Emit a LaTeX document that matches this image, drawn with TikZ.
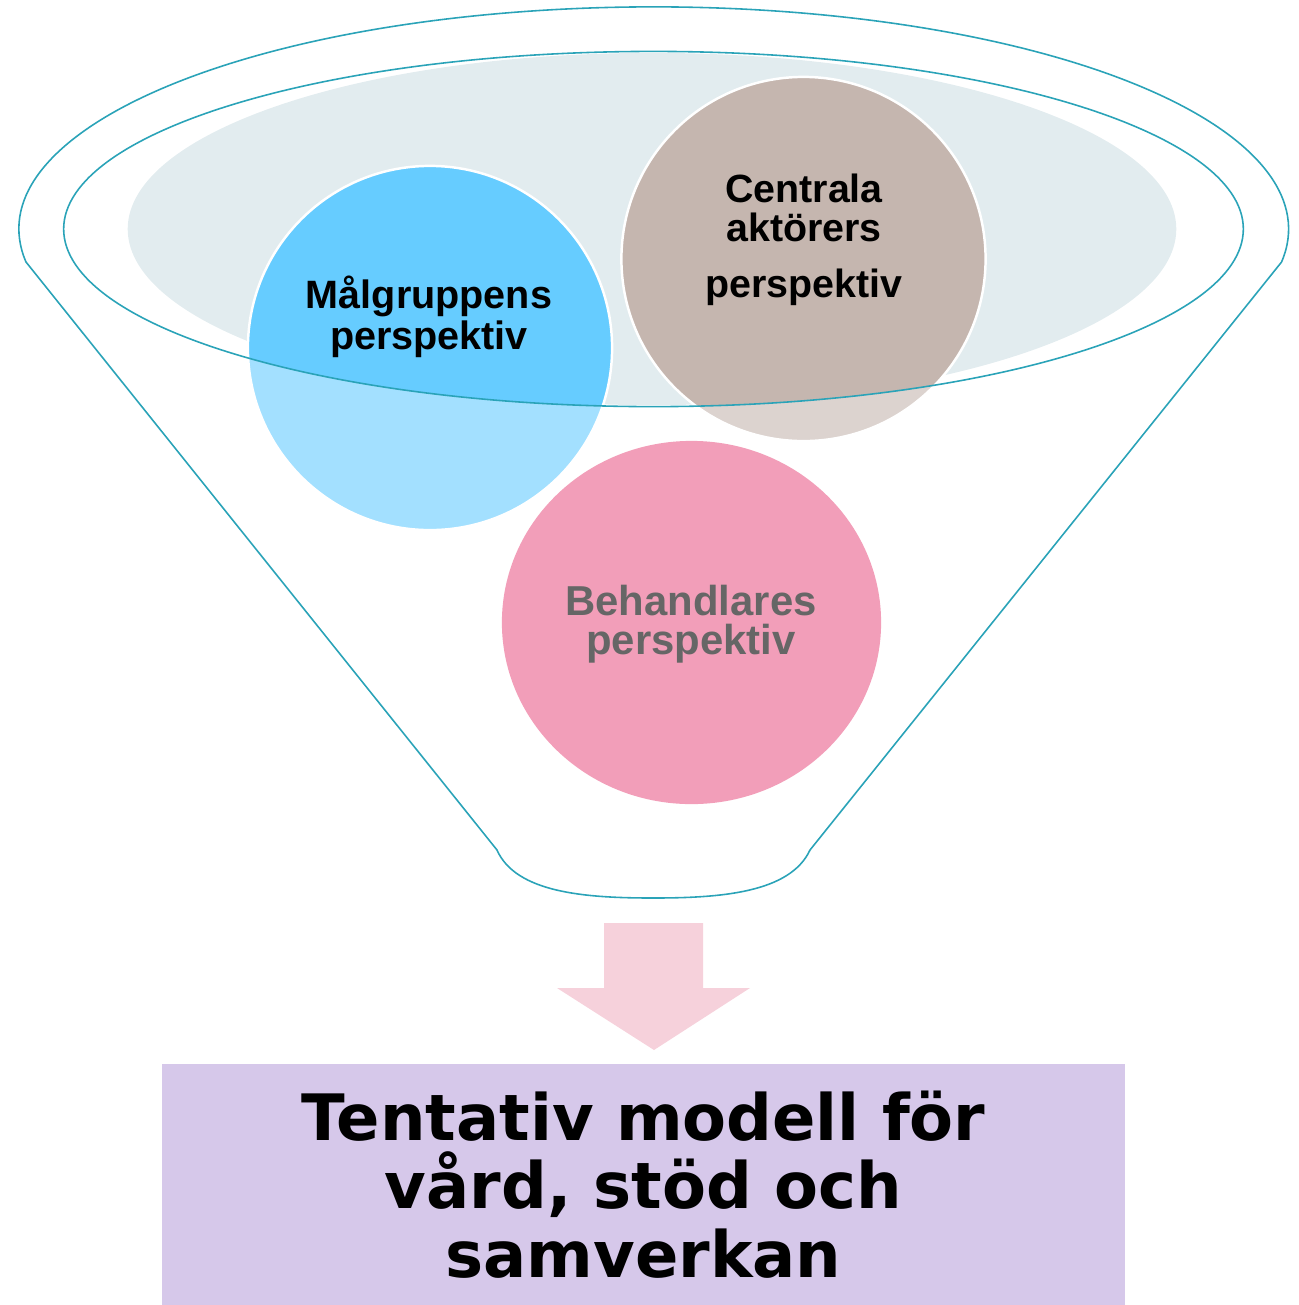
\documentclass[tikz,border=0pt]{standalone}
\usepackage{fontspec}
\usetikzlibrary{shapes.geometric}
\setmainfont{Liberation Sans}
\newfontfamily\modelfont{DejaVu Sans}
\definecolor{funnelline}{RGB}{42,163,184}
\definecolor{topfill}{RGB}{226,236,239}
\definecolor{groupblue}{RGB}{102,204,255}
\definecolor{actorbrown}{RGB}{197,182,175}
\definecolor{carerpink}{RGB}{242,158,185}
\definecolor{arrowpink}{RGB}{246,209,219}
\definecolor{modelpurple}{RGB}{214,200,234}
\definecolor{carergray}{RGB}{102,102,102}

\begin{document}
\begin{tikzpicture}[x=0.01cm, y=-0.01cm,
    disc/.style={circle, draw=white, line width=0.7pt, inner sep=0pt, minimum size=3.64cm},
    perspective/.style={align=center, font=\fontsize{11.2}{11.1}\selectfont\bfseries},
    funnel/.style={draw=funnelline, line width=0.45pt}]
    \useasboundingbox (0,0) rectangle (1299,1305);

    % the top of the funnel
    \fill[topfill] (652,229) ellipse [x radius=5.24cm, y radius=1.76cm];

    \node[disc, fill=groupblue] (malgrupp) at (430,348) {};
    \node[disc, fill=actorbrown] (aktorer) at (803.5,259) {};

    % the funnel body pales what lies outside the rim
    \fill[white, fill opacity=0.4, even odd rule] (0,0) rectangle (1299,900)
        (653.5,229) ellipse [x radius=5.895cm, y radius=1.775cm];

    \node[ellipse, inner sep=0pt, fill=carerpink, minimum width=3.79cm, minimum height=3.63cm]
        (behandlare) at (691.5,622.5) {};

    % funnel outline
    \draw[funnel] (26,262) arc [start angle=188.55, end angle=-8.55, x radius=6.345cm, y radius=2.22cm]
        -- (810,850) .. controls (790,893) and (720,898) .. (653,898)
        .. controls (586,898) and (516,893) .. (497,850) -- cycle;
    \draw[funnel] (653.5,229) ellipse [x radius=5.895cm, y radius=1.775cm];

    \node[perspective, font=\fontsize{11.25}{9.96}\selectfont\bfseries] at (429,317) {Målgruppens\\perspektiv};
    \node[perspective] at (804,240) {Centrala\\aktörers\\[4.8pt]perspektiv};
    \node[perspective, font=\fontsize{11.9}{11.1}\selectfont\bfseries, text=carergray] at (691,624) {Behandlares\\perspektiv};

    % arrow down to the model
    \fill[arrowpink] (604,923) -- (703,923) -- (703,988) -- (750,988) -- (654,1050)
        -- (557,988) -- (604,988) -- cycle;

    \node[fill=modelpurple, minimum width=9.63cm, minimum height=2.41cm, align=center,
        font=\modelfont\fontsize{18.2}{19.5}\selectfont\bfseries] (modell) at (643.5,1184.5)
        {Tentativ modell för\\vård, stöd och\\samverkan};
\end{tikzpicture}
\end{document}
